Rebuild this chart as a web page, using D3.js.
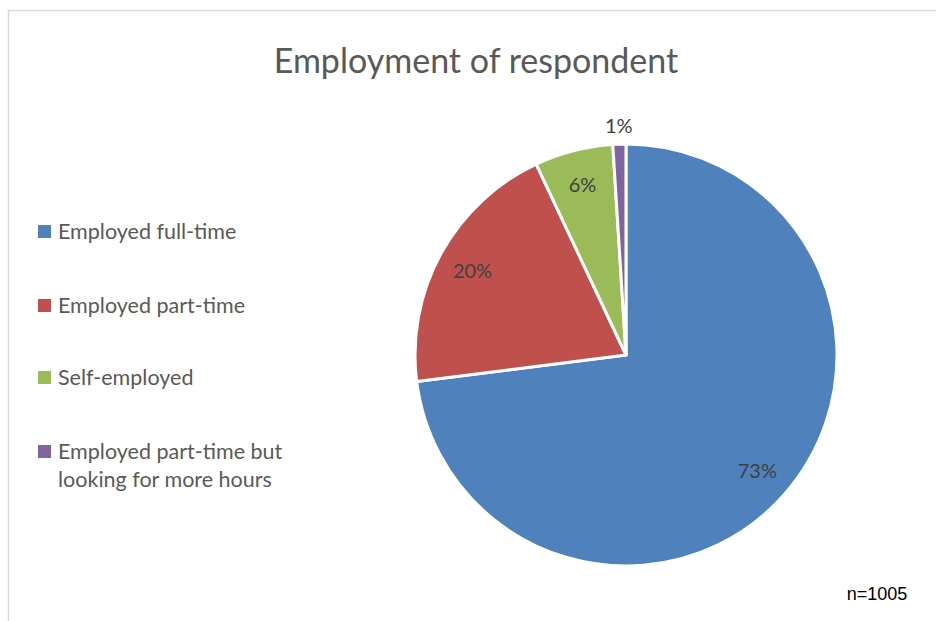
<!DOCTYPE html>
<html>
<head>
<meta charset="utf-8">
<script src="https://cdn.jsdelivr.net/npm/d3@7"></script>
<style>
  html, body { margin: 0; padding: 0; background: #fff; }
  svg { display: block; }
</style>
</head>
<body>
<svg id="chart" width="936" height="621"></svg>
<script>
// Employment status of respondents (share of sample, %)
const categories = [
  "Employed full-time",
  "Employed part-time",
  "Self-employed",
  "Employed part-time but looking for more hours"
];
const values = [73, 20, 6, 1];
const valueLabels = ["73%", "20%", "6%", "1%"];
const colors = ["#4F81BD", "#C0504D", "#9BBB59", "#8064A2"];
const legendLines = [
  ["Employed full-time"],
  ["Employed part-time"],
  ["Self-employed"],
  ["Employed part-time but", "looking for more hours"]
];
const titleText = "Employment of respondent";
const noteText = "n=1005";

const svg = d3.select("#chart");
const font = "Lato, 'Open Sans', 'Noto Sans', sans-serif";

// chart frame
svg.append("rect")
  .attr("x", 8.5).attr("y", 10.5)
  .attr("width", 960).attr("height", 640)
  .attr("fill", "#fff")
  .attr("stroke", "#d9d9d9").attr("stroke-width", 1.5);

// title
svg.append("text")
  .attr("x", 476).attr("y", 73)
  .attr("text-anchor", "middle")
  .attr("font-family", font)
  .attr("font-size", 34)
  .attr("fill", "#595959")
  .text(titleText);

// pie
const cx = 626, cy = 355, r = 211;
const data = categories.map((c, i) => ({ cat: c, value: values[i], label: valueLabels[i], color: colors[i] }));
const pie = d3.pie().value(d => d.value).sort(null);
const arcs = pie(data);
const arc = d3.arc().innerRadius(0).outerRadius(r);

const g = svg.append("g").attr("transform", `translate(${cx},${cy})`);
g.selectAll("path.slice")
  .data(arcs)
  .join("path")
  .attr("class", "slice")
  .attr("d", arc)
  .attr("fill", d => d.data.color)
  .attr("stroke", "#fff")
  .attr("stroke-width", 3)
  .attr("stroke-linejoin", "round");

// value labels: inside the slice, small slices just outside the rim
const labelLayer = svg.append("g").attr("transform", `translate(${cx},${cy})`);
arcs.forEach(d => {
  const mid = (d.startAngle + d.endAngle) / 2;
  const rr = d.data.value < 3 ? r + 18 : r * 0.83;
  labelLayer.append("text")
    .attr("x", rr * Math.sin(mid))
    .attr("y", -rr * Math.cos(mid) + 7)
    .attr("text-anchor", "middle")
    .attr("font-family", font)
    .attr("font-size", 20)
    .attr("fill", "#404040")
    .text(d.data.label);
});

// legend
const legendY = [232, 306, 378, 452];
const legend = svg.append("g");
data.forEach((d, i) => {
  const y = legendY[i];
  legend.append("rect")
    .attr("x", 38).attr("y", y - 7)
    .attr("width", 13).attr("height", 13)
    .attr("fill", d.color);
  const t = legend.append("text")
    .attr("x", 58).attr("y", y + 7)
    .attr("font-family", font)
    .attr("font-size", 21.5)
    .attr("fill", "#595959");
  legendLines[i].forEach((line, j) => {
    t.append("tspan").attr("x", 58).attr("dy", j === 0 ? 0 : 28).text(line);
  });
});

// sample size note
svg.append("text")
  .attr("x", 877).attr("y", 600)
  .attr("text-anchor", "middle")
  .attr("font-family", "'Liberation Sans', Arial, sans-serif")
  .attr("font-size", 18)
  .attr("fill", "#000")
  .text(noteText);
</script>
</body>
</html>
